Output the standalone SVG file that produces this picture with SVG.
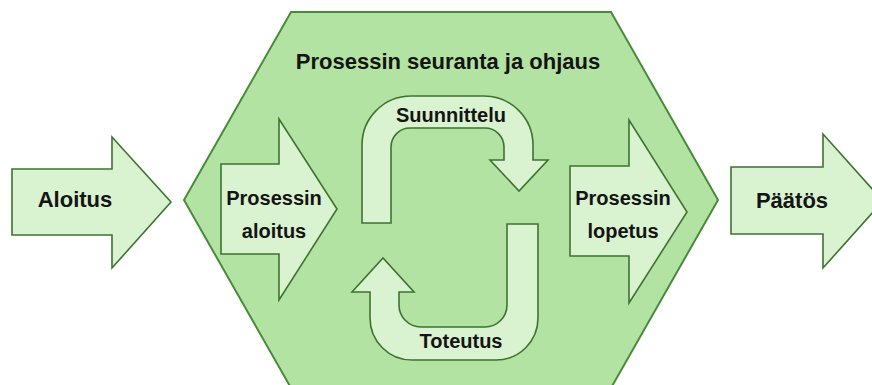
<svg xmlns="http://www.w3.org/2000/svg" width="872" height="385" viewBox="0 0 872 385">
<style>
.hex{fill:#b3e3a2;stroke:#4a8a3b;stroke-width:2;stroke-linejoin:miter}
.arr{fill:#d9f2cf;stroke:#3d7330;stroke-width:1.6;stroke-linejoin:miter}
text{font-family:"Liberation Sans",Arial,sans-serif;font-weight:bold;fill:#141414;text-anchor:middle}
.big{font-size:22px}
.mid{font-size:20px}
</style>
<rect width="872" height="385" fill="#ffffff"/>
<g id="seuranta">
<polygon class="hex" points="291,12 611,12 718,200 611,388 291,388 184,200"/>
<text class="big" x="448" y="69">Prosessin seuranta ja ohjaus</text>
</g>
<g id="aloitus">
<polygon class="arr" points="12,169 112,169 112,137 171,202 112,268 112,235 12,235"/>
<text class="big" x="75" y="207">Aloitus</text>
</g>
<g id="prosessin-aloitus">
<polygon class="arr" points="221,164 279,164 279,119 337,209 279,300 279,254 221,254"/>
<text class="mid" x="274" y="205">Prosessin</text>
<text class="mid" x="274" y="238">aloitus</text>
</g>
<g id="suunnittelu">
<path class="arr" d="M362,223 L362,145 A49,49 0 0 1 411,96 L484,96 A49,49 0 0 1 533,145 L533,160 L548,160 L519,191 L490,160 L504,160 L504,147 A19,19 0 0 0 485,128 L410,128 A19,19 0 0 0 391,147 L391,223 Z"/>
<text class="mid" x="451" y="122">Suunnittelu</text>
</g>
<g id="toteutus">
<path class="arr" d="M507,224 L538,224 L538,318 A42,42 0 0 1 496,360 L412,360 A42,42 0 0 1 370,318 L370,292 L352,292 L383,258 L414,292 L399,292 L399,305 A22,22 0 0 0 421,327 L485,327 A22,22 0 0 0 507,305 Z"/>
<text class="mid" x="461" y="348">Toteutus</text>
</g>
<g id="prosessin-lopetus">
<polygon class="arr" points="570,166 629,166 629,120 687,212 629,303 629,256 570,256"/>
<text class="mid" x="623" y="205">Prosessin</text>
<text class="mid" x="623" y="238">lopetus</text>
</g>
<g id="paatos">
<polygon class="arr" points="731,167 823,167 823,134 883,201 823,268 823,234 731,234"/>
<text class="big" x="792" y="208">Päätös</text>
</g>
<g id="connectors"></g>
</svg>
